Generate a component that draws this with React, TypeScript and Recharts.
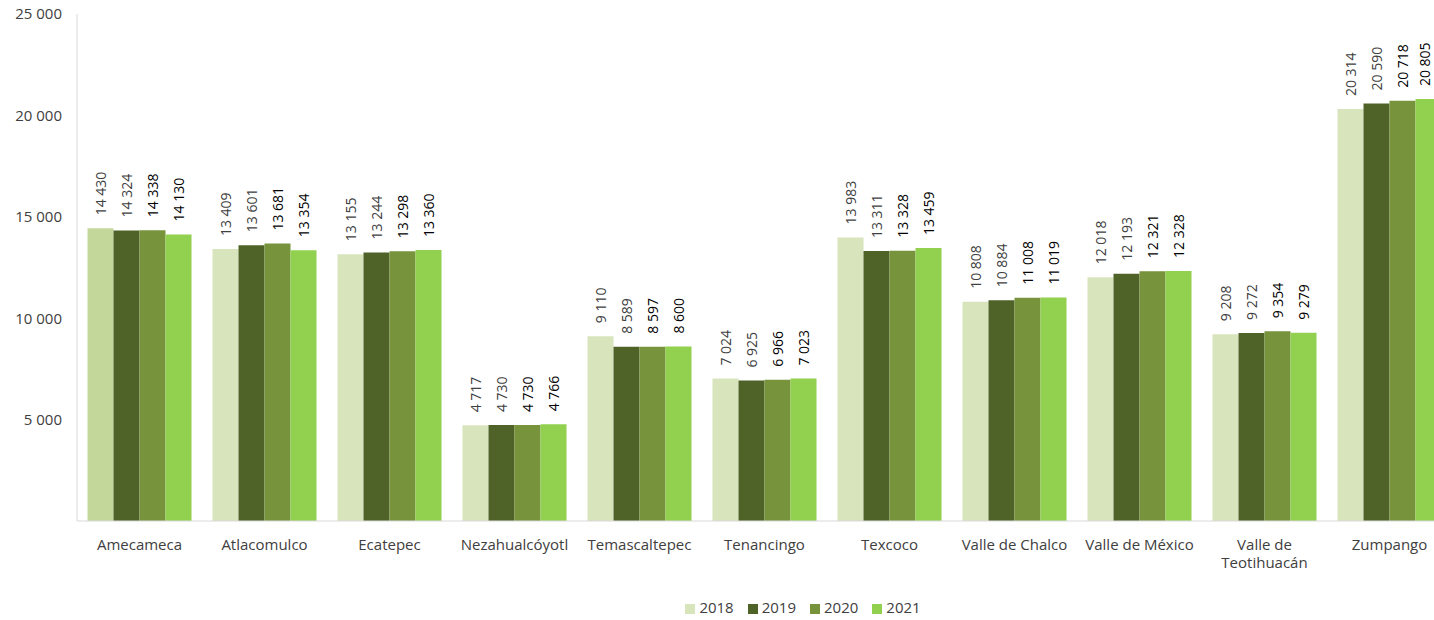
import * as React from "react";
import { Bar, BarChart, Cell, LabelList, Legend, XAxis, YAxis } from "recharts";

const CATEGORIES: string[] = [
    "Amecameca",
    "Atlacomulco",
    "Ecatepec",
    "Nezahualcóyotl",
    "Temascaltepec",
    "Tenancingo",
    "Texcoco",
    "Valle de Chalco",
    "Valle de México",
    "Valle de Teotihuacán",
    "Zumpango",
];

const SERIES_KEYS: string[] = ["2018", "2019", "2020", "2021"];

const VALUES_2018: number[] = [14430, 13409, 13155, 4717, 9110, 7024, 13983, 10808, 12018, 9208, 20314];
const VALUES_2019: number[] = [14324, 13601, 13244, 4730, 8589, 6925, 13311, 10884, 12193, 9272, 20590];
const VALUES_2020: number[] = [14338, 13681, 13298, 4730, 8597, 6966, 13328, 11008, 12321, 9354, 20718];
const VALUES_2021: number[] = [14130, 13354, 13360, 4766, 8600, 7023, 13459, 11019, 12328, 9279, 20805];

const Y_TICKS: number[] = [5000, 10000, 15000, 20000, 25000];

const COLORS: string[] = ["#D8E4BC", "#4F6228", "#77933C", "#92D050"];
const LABEL_COLORS: string[] = ["#404040", "#404040", "#000000", "#000000"];
const HIGHLIGHT_COLOR = "#C4D79B";

const FONT = "'Open Sans', sans-serif";
const VISIBLE_WIDTH = 1434;

const data = CATEGORIES.map((name, i) => ({
    name,
    "2018": VALUES_2018[i],
    "2019": VALUES_2019[i],
    "2020": VALUES_2020[i],
    "2021": VALUES_2021[i],
}));

const fmt = (v: number): string => String(v).replace(/\B(?=(\d{3})+(?!\d))/g, " ");

const wrapWords = (text: string, max: number): string[] => {
    const lines: string[] = [];
    let cur = "";
    text.split(" ").forEach((w) => {
        const next = cur ? cur + " " + w : w;
        if (next.length > max && cur) {
            lines.push(cur);
            cur = w;
        } else {
            cur = next;
        }
    });
    if (cur) lines.push(cur);
    return lines;
};

const XTick = (props: any) => {
    const { x, y, payload } = props;
    const lines = wrapWords(payload.value, 16);
    return (
        <text x={x} y={y + 21} textAnchor="middle" fill="#404040" fontSize={15} fontFamily={FONT}>
            {lines.map((l, i) => (
                <tspan key={i} x={x} dy={i === 0 ? 0 : 18}>{l}</tspan>
            ))}
        </text>
    );
};

const makeLabel = (color: string) => (props: any) => {
    const { x, y, width, value } = props;
    // keep labels inside the visible area, like the spreadsheet does
    const cx = Math.min(x + width / 2, VISIBLE_WIDTH - 9);
    const ty = y - 13;
    return (
        <text
            x={cx}
            y={ty}
            transform={`rotate(-90 ${cx} ${ty})`}
            textAnchor="start"
            dominantBaseline="central"
            fill={color}
            fontSize={14}
            fontFamily={FONT}>
            {fmt(value)}
        </text>
    );
};

export default function App(): JSX.Element {
    return (
        <div style={{ position: "absolute", left: 0, top: 0, width: VISIBLE_WIDTH, height: 620, overflow: "hidden", background: "#fff" }}>
            <BarChart
                width={1470}
                height={620}
                data={data}
                margin={{ top: 14, right: 18, left: 0, bottom: 3 }}
                barCategoryGap={10.5}
                barGap={0}>
                <XAxis
                    dataKey="name"
                    interval={0}
                    tickLine={false}
                    axisLine={{ stroke: "#D9D9D9" }}
                    tick={<XTick />}
                    height={76} />
                <YAxis
                    width={77}
                    domain={[0, 25000]}
                    ticks={Y_TICKS}
                    tickLine={false}
                    axisLine={{ stroke: "#D9D9D9" }}
                    tickMargin={9}
                    tickFormatter={fmt}
                    tick={{ fill: "#404040", fontSize: 15, fontFamily: FONT }} />
                <Legend
                    verticalAlign="bottom"
                    iconType="square"
                    iconSize={10}
                    wrapperStyle={{ fontFamily: FONT, fontSize: 15, left: 84 }}
                    formatter={(v: string) => <span style={{ color: "#404040", marginRight: 4 }}>{v}</span>} />
                {SERIES_KEYS.map((k, si) => (
                    <Bar key={k} dataKey={k} fill={COLORS[si]} isAnimationActive={false}>
                        {si === 0 &&
                            data.map((_, i) => (
                                <Cell key={`c-${i}`} fill={i === 0 ? HIGHLIGHT_COLOR : COLORS[0]} />
                            ))}
                        <LabelList dataKey={k} content={makeLabel(LABEL_COLORS[si])} />
                    </Bar>
                ))}
            </BarChart>
        </div>
    );
}
